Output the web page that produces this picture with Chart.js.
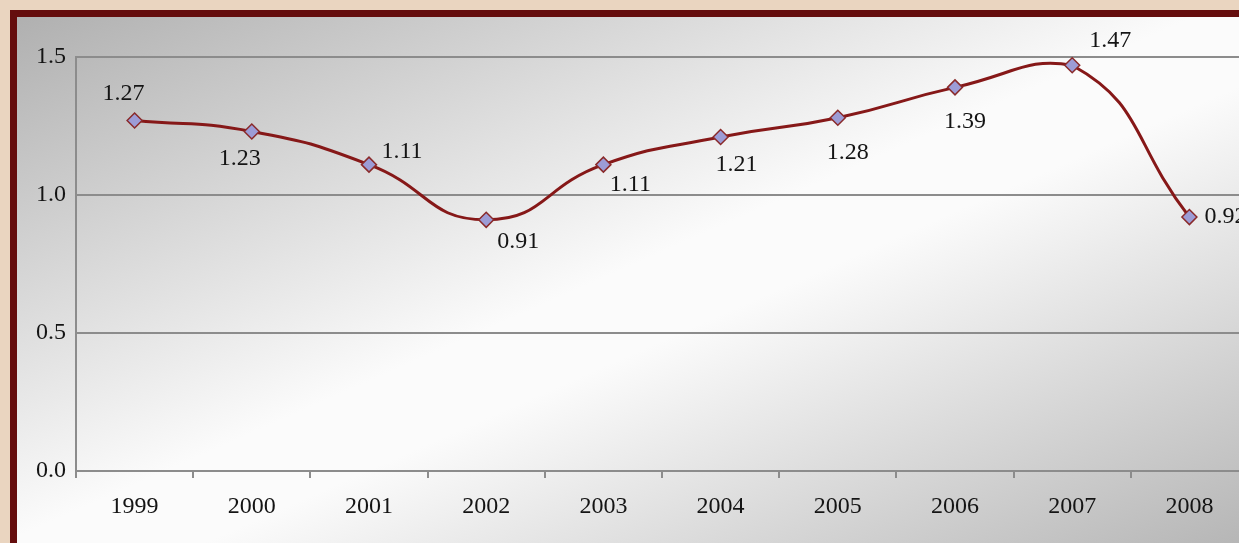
<!DOCTYPE html>
<html>
<head>
<meta charset="utf-8">
<script src="https://cdn.jsdelivr.net/npm/chart.js@4"></script>
<style>
  html, body { margin: 0; padding: 0; width: 1239px; height: 543px; overflow: hidden; background: #ead5c0; }
  #frame { position: absolute; left: 10px; top: 10px; width: 1260px; height: 560px; background: #650d0d; }
  #panel { position: absolute; left: 7px; top: 7px; width: 1253px; height: 553px;
    background: linear-gradient(to bottom right, #b0b0b0 0%, #fbfbfb 47%, #fbfbfb 55%, #b0b0b0 100%); }
  #c { position: absolute; left: 0; top: 0; }
</style>
</head>
<body>
<div id="frame"><div id="panel"><canvas id="c" width="1240" height="526"></canvas></div></div>
<script>
const years = ['1999','2000','2001','2002','2003','2004','2005','2006','2007','2008'];
const values = [1.27, 1.23, 1.11, 0.91, 1.11, 1.21, 1.28, 1.39, 1.47, 0.92];
const valueLabels = ['1.27','1.23','1.11','0.91','1.11','1.21','1.28','1.39','1.47','0.92'];
const yTicks = [0, 0.5, 1.0, 1.5];

const FONT = '"Liberation Serif", "Times New Roman", serif';

const pointLabels = {
  id: 'pointLabels',
  afterDatasetsDraw(chart, args, opts) {
    const ctx = chart.ctx;
    const meta = chart.getDatasetMeta(0);
    ctx.save();
    ctx.font = '24px ' + FONT;
    ctx.fillStyle = '#141414';
    ctx.textBaseline = 'middle';
    meta.data.forEach((pt, i) => {
      const o = opts.offsets[i];
      ctx.textAlign = o[2] || 'center';
      ctx.fillText(valueLabels[i], pt.x + o[0], pt.y + o[1]);
    });
    ctx.restore();
  }
};

new Chart(document.getElementById('c'), {
  type: 'line',
  data: {
    labels: years,
    datasets: [{
      data: values,
      borderColor: '#861818',
      borderWidth: 3,
      tension: 0.5,
      pointStyle: 'rectRot',
      pointRadius: 7.5,
      pointBackgroundColor: '#9c9cd6',
      pointBorderColor: '#8a2a2a',
      pointBorderWidth: 1.5,
      clip: false
    }]
  },
  options: {
    responsive: false,
    animation: false,
    devicePixelRatio: 1,
    layout: { padding: { top: 40, right: 6, left: 0, bottom: 0 } },
    plugins: {
      legend: { display: false },
      tooltip: { enabled: false },
      pointLabels: {
        offsets: [[-11,-27],[-12,27],[33,-13],[32,22],[27,20],[16,28],[10,35],[10,34],[38,-25],[15,0,'left']]
      }
    },
    scales: {
      x: {
        type: 'category',
        offset: true,
        grid: { offset: true, drawOnChartArea: false, drawTicks: true, tickLength: 7, color: '#8c8c8c', lineWidth: 2 },
        border: { color: '#8c8c8c', width: 2 },
        ticks: { color: '#141414', font: { family: FONT, size: 24 }, padding: 14, maxRotation: 0, autoSkip: false },
        afterFit(s) { s.height = 72; }
      },
      y: {
        min: 0, max: 1.5,
        afterBuildTicks(s) { s.ticks = yTicks.map(v => ({ value: v })); },
        grid: { color: '#8c8c8c', lineWidth: 2, drawTicks: false },
        border: { color: '#8c8c8c', width: 2 },
        ticks: { color: '#141414', font: { family: FONT, size: 24 }, padding: 10,
          callback: v => v.toFixed(1) },
        afterFit(s) { s.width = 59; }
      }
    }
  },
  plugins: [pointLabels]
});
</script>
</body>
</html>
